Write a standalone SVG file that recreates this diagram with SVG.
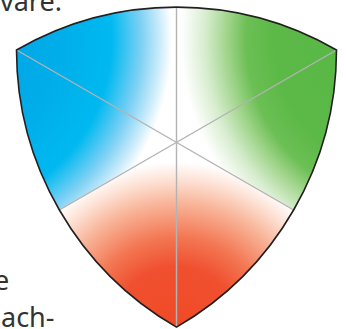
<svg xmlns="http://www.w3.org/2000/svg" width="346" height="329" viewBox="0 0 346 329">
<style>
.txt{font-family:"Noto Sans","Open Sans","DejaVu Sans",sans-serif;font-size:27px;fill:#333}
.grid{stroke:#b3b3b3;stroke-width:1.4;fill:none}
.edge{stroke:#231f20;stroke-width:1.6;fill:none;stroke-linejoin:miter}
</style>
<defs>
<radialGradient id="gBlue" gradientUnits="userSpaceOnUse" cx="-60" cy="40" r="232">
<stop offset="0" stop-color="#009fe3"/>
<stop offset="0.5" stop-color="#00ade9"/>
<stop offset="0.74" stop-color="#00b9f0"/>
<stop offset="0.87" stop-color="#80d1f4"/>
<stop offset="0.95" stop-color="#cdecfa"/>
<stop offset="1" stop-color="#ffffff"/>
</radialGradient>
<radialGradient id="gGreen" gradientUnits="userSpaceOnUse" cx="413" cy="40" r="232">
<stop offset="0" stop-color="#55b646"/>
<stop offset="0.6" stop-color="#5cb947"/>
<stop offset="0.72" stop-color="#6cbf55"/>
<stop offset="0.8" stop-color="#a0d48a"/>
<stop offset="0.9" stop-color="#d8edd0"/>
<stop offset="1" stop-color="#ffffff"/>
</radialGradient>
<radialGradient id="gRed" gradientUnits="userSpaceOnUse" cx="176.5" cy="330" r="168">
<stop offset="0" stop-color="#f04a26"/>
<stop offset="0.38" stop-color="#f05030"/>
<stop offset="0.55" stop-color="#f37652"/>
<stop offset="0.75" stop-color="#f8b397"/>
<stop offset="0.9" stop-color="#fde3d7"/>
<stop offset="1" stop-color="#ffffff"/>
</radialGradient>
</defs>
<g id="text">
<text class="txt" x="0" y="11">vare.</text>
<text class="txt" x="-6" y="290">e</text>
<text class="txt" x="1" y="327">ach-</text>
</g>
<g id="sector-blue">
<path d="M176.5,142.4 L176.5,7.1 A320,320 0 0 0 16.5,50 A320,320 0 0 0 59.4,210 Z" fill="url(#gBlue)"/>
</g>
<g id="sector-green">
<path d="M176.5,142.4 L176.5,7.1 A320,320 0 0 1 336.5,50 A320,320 0 0 1 293.6,210 Z" fill="url(#gGreen)"/>
</g>
<g id="sector-red">
<path d="M176.5,142.4 L59.4,210 A320,320 0 0 0 176.5,327.1 A320,320 0 0 0 293.6,210 Z" fill="url(#gRed)"/>
</g>
<g id="connectors">
<line class="grid" x1="176.5" y1="7.1" x2="176.5" y2="327.1"/>
<line class="grid" x1="16.5" y1="50" x2="293.6" y2="210"/>
<line class="grid" x1="336.5" y1="50" x2="59.4" y2="210"/>
</g>
<g id="outline">
<path class="edge" d="M16.5,50 A320,320 0 0 1 336.5,50 A320,320 0 0 1 176.5,327.1 A320,320 0 0 1 16.5,50 Z"/>
</g>
</svg>
